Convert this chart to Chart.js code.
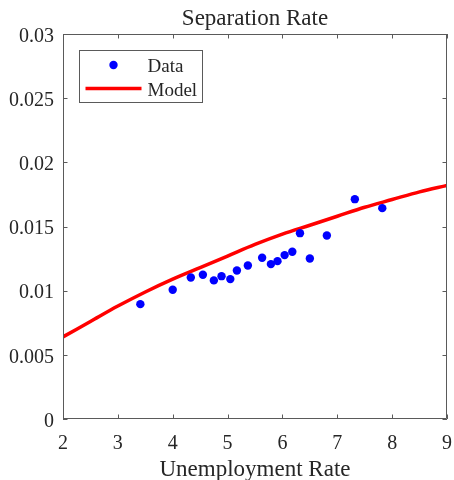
<!DOCTYPE html>
<html>
<head>
<meta charset="utf-8">
<script src="https://cdn.jsdelivr.net/npm/chart.js@4"></script>
<style>
html,body{margin:0;padding:0;background:#fff;}
#wrap{width:454px;height:480px;}
</style>
</head>
<body>
<div id="wrap"><canvas id="c" width="454" height="480"></canvas></div>
<script>
// ---- data ----
const dataUnemp = [3.41, 4.00, 4.33, 4.55, 4.75, 4.89, 5.05, 5.17, 5.37, 5.63, 5.79, 5.91, 6.04, 6.18, 6.32, 6.50, 6.81, 7.32, 7.82];
const dataSep   = [0.00895, 0.01007, 0.01103, 0.01124, 0.01080, 0.01113, 0.01090, 0.01157, 0.01196, 0.01256, 0.01207, 0.01230, 0.01277, 0.01303, 0.01448, 0.01251, 0.01430, 0.01713, 0.01643];
const modelUnemp = [2.0, 2.5, 3.0, 3.5, 4.0, 4.5, 5.0, 5.5, 6.0, 6.5, 7.0, 7.5, 8.0, 8.5, 9.0];
const modelSep   = [0.0064, 0.0076, 0.0088, 0.0099, 0.0109, 0.0118, 0.0127, 0.0136, 0.0144, 0.0151, 0.0158, 0.0165, 0.0171, 0.0177, 0.0182];
const xTickLabels = ['2','3','4','5','6','7','8','9'];
const yTickLabels = ['0','0.005','0.01','0.015','0.02','0.025','0.03'];
const titleText = 'Separation Rate';
const xTitle = 'Unemployment Rate';
const seriesNames = ['Data', 'Model'];

const FONT = "'Liberation Serif', 'Times New Roman', serif";
const TEXT = '#262626';
const AXIS = '#5a5a5a';

const frameTicks = {
  id: 'frameTicks',
  afterDatasetsDraw(chart) {
    const {ctx, chartArea: a, scales} = chart;
    ctx.save();
    ctx.strokeStyle = AXIS;
    ctx.lineWidth = 1;
    ctx.beginPath();
    ctx.rect(Math.round(a.left)+0.5, Math.round(a.top)+0.5, Math.round(a.right-a.left)-1, Math.round(a.bottom-a.top)-1);
    ctx.stroke();
    const L = 4.5;
    ctx.beginPath();
    scales.x.ticks.forEach(t => {
      const px = Math.round(scales.x.getPixelForValue(t.value)) + 0.5;
      ctx.moveTo(px, a.bottom); ctx.lineTo(px, a.bottom - L);
      ctx.moveTo(px, a.top); ctx.lineTo(px, a.top + L);
    });
    scales.y.ticks.forEach(t => {
      const py = Math.round(scales.y.getPixelForValue(t.value)) + 0.5;
      ctx.moveTo(a.left, py); ctx.lineTo(a.left + L, py);
      ctx.moveTo(a.right, py); ctx.lineTo(a.right - L, py);
    });
    ctx.stroke();
    ctx.restore();
  },
  afterDraw(chart) {
    const {ctx} = chart;
    const ds = chart.data.datasets;
    ctx.save();
    const bx = 79.5, by = 50.5, bw = 123, bh = 52;
    ctx.fillStyle = '#fff';
    ctx.fillRect(bx, by, bw, bh);
    ctx.strokeStyle = AXIS;
    ctx.lineWidth = 1;
    ctx.strokeRect(bx, by, bw, bh);
    ctx.fillStyle = ds[0].backgroundColor;
    ctx.beginPath();
    ctx.arc(bx + 34, by + 14.5, 4.2, 0, Math.PI * 2);
    ctx.fill();
    ctx.strokeStyle = ds[1].borderColor;
    ctx.lineWidth = 3.5;
    ctx.beginPath();
    ctx.moveTo(bx + 6, by + 38);
    ctx.lineTo(bx + 62, by + 38);
    ctx.stroke();
    ctx.fillStyle = TEXT;
    ctx.font = "19px " + FONT;
    ctx.textBaseline = 'alphabetic';
    ctx.textAlign = 'left';
    ctx.fillText(ds[0].label, bx + 68, by + 21);
    ctx.fillText(ds[1].label, bx + 68, by + 45);
    ctx.restore();
  }
};

new Chart(document.getElementById('c'), {
  type: 'scatter',
  data: {
    datasets: [
      {
        label: seriesNames[0],
        data: dataUnemp.map((x, i) => ({x, y: dataSep[i]})),
        backgroundColor: '#0000ff',
        borderColor: '#0000ff',
        pointRadius: 4.2,
        pointBorderWidth: 0,
        showLine: false,
        order: 0
      },
      {
        label: seriesNames[1],
        data: modelUnemp.map((x, i) => ({x, y: modelSep[i]})),
        borderColor: '#ff0000',
        backgroundColor: '#ff0000',
        borderWidth: 3.5,
        pointRadius: 0,
        showLine: true,
        cubicInterpolationMode: 'monotone',
        order: 1
      }
    ]
  },
  options: {
    responsive: false,
    animation: false,
    devicePixelRatio: 1,
    layout: {padding: {left: 0, right: 7, top: 0, bottom: 0}},
    plugins: {
      legend: {display: false},
      tooltip: {enabled: false},
      title: {
        display: true,
        text: titleText,
        fullSize: false,
        color: TEXT,
        font: {family: FONT, size: 23, weight: 'normal', lineHeight: 1.2},
        padding: {top: 5, bottom: 1.4}
      }
    },
    scales: {
      x: {
        type: 'linear',
        min: 2, max: 9,
        afterFit(s) { s.height = 61; s.paddingRight = 0; s.paddingLeft = 0; },
        grid: {display: false, drawTicks: false},
        border: {display: false},
        ticks: {
          stepSize: 1,
          color: TEXT,
          padding: 13,
          maxRotation: 0,
          font: {family: FONT, size: 20},
          callback: (v, i) => xTickLabels[i]
        },
        title: {
          display: true,
          text: xTitle,
          color: TEXT,
          font: {family: FONT, size: 23, lineHeight: 1.2},
          padding: {top: 0, bottom: -4}
        }
      },
      y: {
        type: 'linear',
        min: 0, max: 0.03,
        afterFit(s) { s.width = 63; s.paddingTop = 0; s.paddingBottom = 0; },
        grid: {display: false, drawTicks: false},
        border: {display: false},
        ticks: {
          stepSize: 0.005,
          color: TEXT,
          padding: 9,
          labelOffset: 2.5,
          font: {family: FONT, size: 20},
          callback: (v, i) => yTickLabels[i]
        }
      }
    }
  },
  plugins: [frameTicks]
});
</script>
</body>
</html>
